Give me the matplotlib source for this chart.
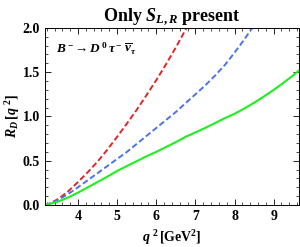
import matplotlib

matplotlib.use("Agg")
import matplotlib.pyplot as plt
from matplotlib.ticker import MultipleLocator, FormatStrFormatter

# values
q2_red = [3.157, 3.3, 3.5, 3.75, 4.0, 4.25, 4.5, 4.75, 5.0, 5.25, 5.5, 5.75,
          6.0, 6.25, 6.5, 6.75, 7.0]
r_red = [0.0, 0.02, 0.07, 0.155, 0.26, 0.37, 0.49, 0.625, 0.77, 0.92, 1.075,
         1.24, 1.41, 1.59, 1.78, 1.98, 2.19]

q2_blue = [3.157, 3.3, 3.5, 3.75, 4.0, 4.25, 4.5, 4.75, 5.0, 5.25, 5.5, 5.75,
           6.0, 6.25, 6.5, 6.75, 7.0, 7.25, 7.5, 7.75, 8.0, 8.25, 8.5, 8.7]
r_blue = [0.0, 0.02, 0.06, 0.125, 0.20, 0.28, 0.36, 0.44, 0.52, 0.60, 0.69,
          0.78, 0.87, 0.96, 1.05, 1.15, 1.25, 1.35, 1.46, 1.58, 1.72, 1.87,
          2.03, 2.16]

q2_green = [3.157, 3.3, 3.5, 3.75, 4.0, 4.25, 4.5, 4.75, 5.0, 5.25, 5.5, 5.75,
            6.0, 6.25, 6.5, 6.75, 7.0, 7.25, 7.5, 7.75, 8.0, 8.25, 8.5, 8.75,
            9.0, 9.25, 9.5, 9.65]
r_green = [0.0, 0.015, 0.04, 0.085, 0.14, 0.20, 0.26, 0.32, 0.385, 0.44, 0.495,
           0.55, 0.60, 0.655, 0.71, 0.77, 0.82, 0.87, 0.925, 0.98, 1.03, 1.09,
           1.155, 1.225, 1.30, 1.38, 1.465, 1.52]

plt.rcParams["font.family"] = "Liberation Serif"
plt.rcParams["font.weight"] = "bold"
plt.rcParams["mathtext.fontset"] = "custom"
plt.rcParams["mathtext.rm"] = "Liberation Serif:bold"
plt.rcParams["mathtext.it"] = "Liberation Serif:italic:bold"
plt.rcParams["mathtext.bf"] = "Liberation Serif:bold"

fig = plt.figure(figsize=(3.0, 2.47), dpi=100)
ax = fig.add_axes([0.15, 0.17, 0.847, 0.717])

ax.plot(q2_red, r_red, color="#e0262b", lw=1.4, dashes=(3, 1.5))
ax.plot(q2_blue, r_blue, color="#4a74e8", lw=1.4, dashes=(3, 1.5))
ax.plot(q2_green, r_green, color="#1ef01e", lw=1.5)

ax.set_xlim(3.157, 9.65)
ax.set_ylim(0, 2.0)
ax.xaxis.set_major_locator(MultipleLocator(1))
ax.xaxis.set_minor_locator(MultipleLocator(0.2))
ax.yaxis.set_major_locator(MultipleLocator(0.5))
ax.yaxis.set_minor_locator(MultipleLocator(0.1))
ax.yaxis.set_major_formatter(FormatStrFormatter("%.1f"))
ax.tick_params(which="both", direction="in", top=True, right=True, labelsize=10)
ax.tick_params(which="major", length=4, width=0.6)
ax.tick_params(which="minor", length=2, width=0.5)
for sp in ax.spines.values():
    sp.set_linewidth(0.7)

ax.set_xlabel(r"$q^{\ 2}\,[\mathrm{GeV}^2]$", fontsize=10)
ax.set_ylabel(r"$R_D\,[q^{\ 2}]$", fontsize=10)
ax.yaxis.set_label_coords(-0.09, 0.5)
ax.set_title(r"Only $S_{L,R}$ present", fontsize=13, fontweight="bold", pad=5)
ax.text(0.045, 0.86, r"$B^-\!\rightarrow D^{\,0}\,\tau^-\,\overline{\nu}_\tau$",
        transform=ax.transAxes, fontsize=9.5)

fig.savefig("out.png", dpi=100)
